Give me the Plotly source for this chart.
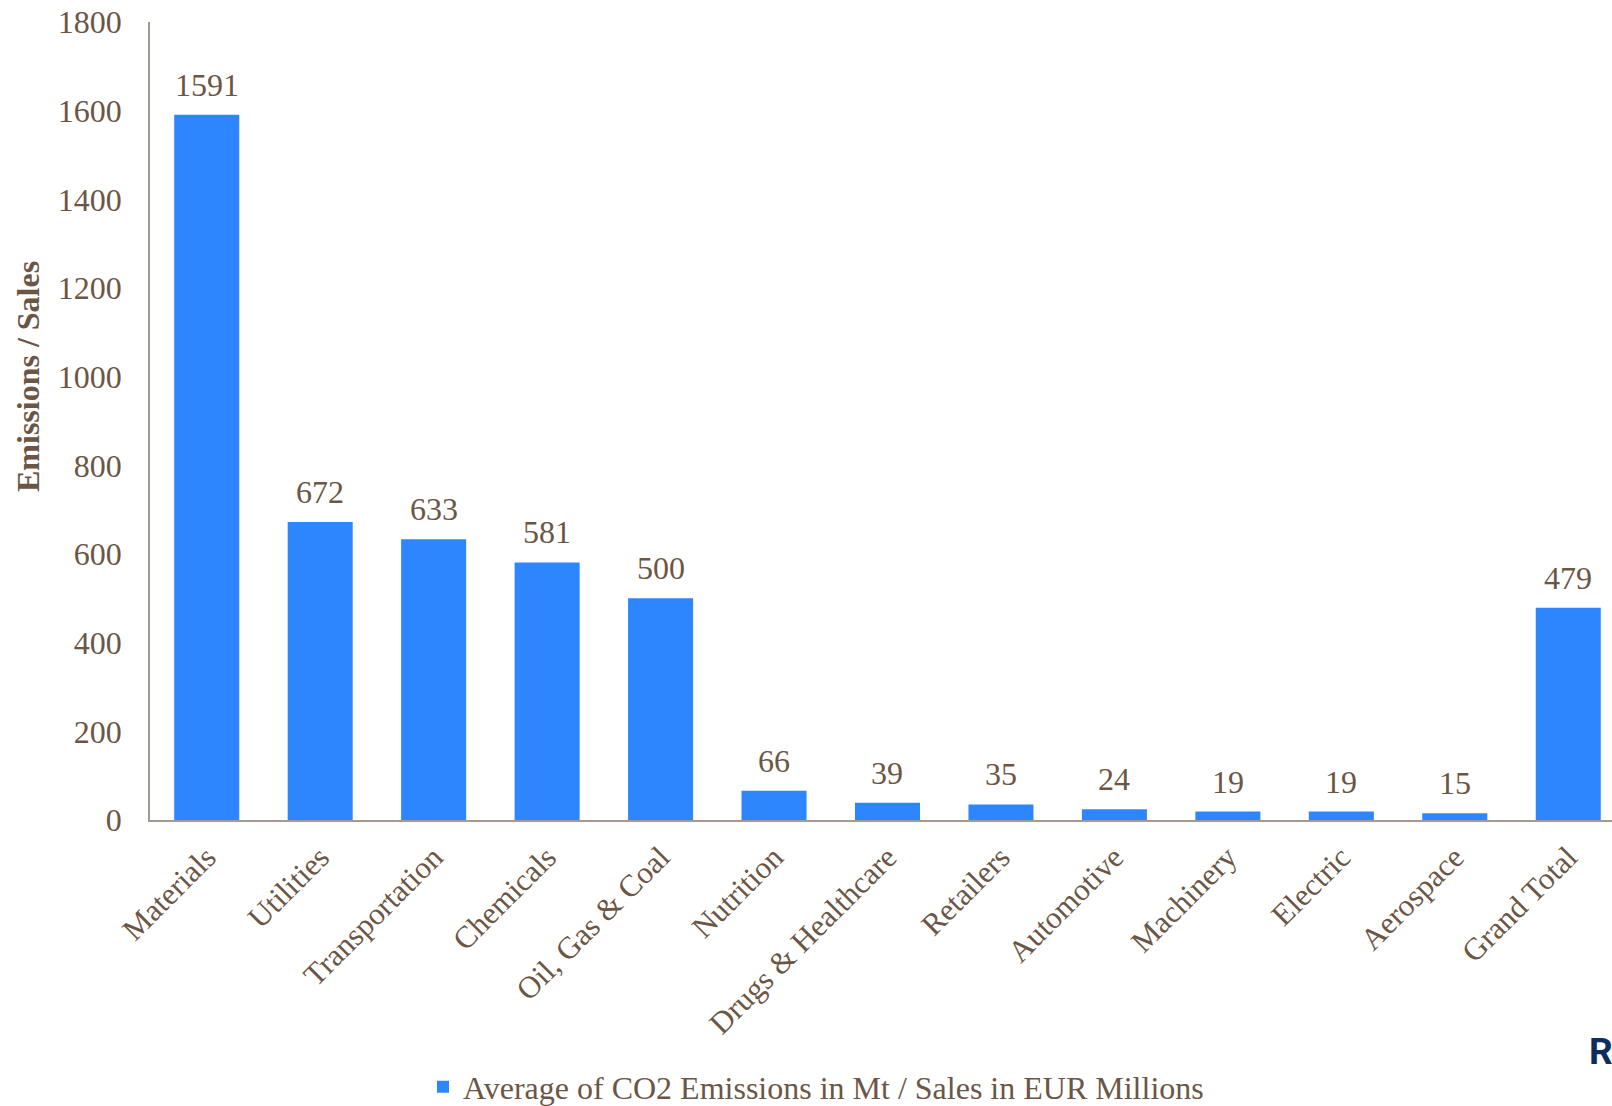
import plotly.graph_objects as go

categories = ["Materials", "Utilities", "Transportation", "Chemicals", "Oil, Gas & Coal",
              "Nutrition", "Drugs & Healthcare", "Retailers", "Automotive", "Machinery",
              "Electric", "Aerospace", "Grand Total"]
values = [1591, 672, 633, 581, 500, 66, 39, 35, 24, 19, 19, 15, 479]
series_name = "Average of CO2 Emissions in Mt / Sales in EUR Millions"
y_ticks = [0, 200, 400, 600, 800, 1000, 1200, 1400, 1600, 1800]

FONT = "Liberation Serif, Times New Roman, serif"
TXT = "#6B5646"
BAR = "#2E86FF"
AXIS = "#A39A93"

W, H = 1612, 1106
L, R, T, B = 150, 0, 22, 286
pw = W - L - R
ph = H - T - B
X0 = L
YB = H - B

fig = go.Figure()
fig.add_trace(go.Bar(
    x=categories, y=values, name=series_name,
    marker=dict(color=BAR, line=dict(width=0)),
    showlegend=True,
))

for c, v in zip(categories, values):
    fig.add_annotation(x=c, y=v, text=str(v), showarrow=False, xref="x", yref="y",
                       yanchor="bottom", yshift=10,
                       font=dict(family=FONT, size=32, color=TXT))

# y axis title
fig.add_annotation(xref="paper", yref="paper", x=(28 - X0) / pw, y=(YB - 377) / ph,
                   xanchor="center", yanchor="middle",
                   text="<b>Emissions / Sales</b>", textangle=-90, showarrow=False,
                   font=dict(family=FONT, size=32, color=TXT))
# logo fragment at the right edge
fig.add_annotation(xref="paper", yref="paper", x=(1587 - X0) / pw, y=(YB - 1051) / ph,
                   xanchor="left", yanchor="middle", text="<b>R</b>", showarrow=False,
                   font=dict(family="Roboto, Arial, sans-serif", size=37, color="#0C2D5E"))

nc = len(categories)
step = 113.46
right_extra = (X0 + nc * step - W) / step

fig.update_layout(
    width=W, height=H,
    margin=dict(l=L, r=R, t=T, b=B, autoexpand=False),
    paper_bgcolor="white", plot_bgcolor="white",
    bargap=0.427,
    font=dict(family=FONT, size=31, color=TXT),
    legend=dict(orientation="h", x=(423 - X0) / pw, xanchor="left",
                y=(YB - 1087) / ph, yanchor="middle",
                font=dict(family=FONT, size=32, color=TXT),
                bgcolor="rgba(0,0,0,0)"),
    xaxis=dict(range=[-0.5, nc - 0.5 - right_extra], showline=True, linecolor=AXIS, linewidth=1.5,
               showgrid=False, zeroline=False, tickangle=-45,
               ticks="outside", ticklen=0, ticklabelstandoff=5,
               tickfont=dict(family=FONT, size=31, color=TXT)),
    yaxis=dict(range=[0, 1800], tickvals=y_ticks, showline=True, linecolor=AXIS, linewidth=1.5,
               showgrid=False, zeroline=False, ticks="", ticklabelstandoff=20,
               ticklabeloverflow="allow",
               tickfont=dict(family=FONT, size=32, color=TXT)),
)

fig.write_html("out.html",
               config={"displayModeBar": False},
               post_script="document.body.style.margin='0';document.body.style.overflow='hidden';")
